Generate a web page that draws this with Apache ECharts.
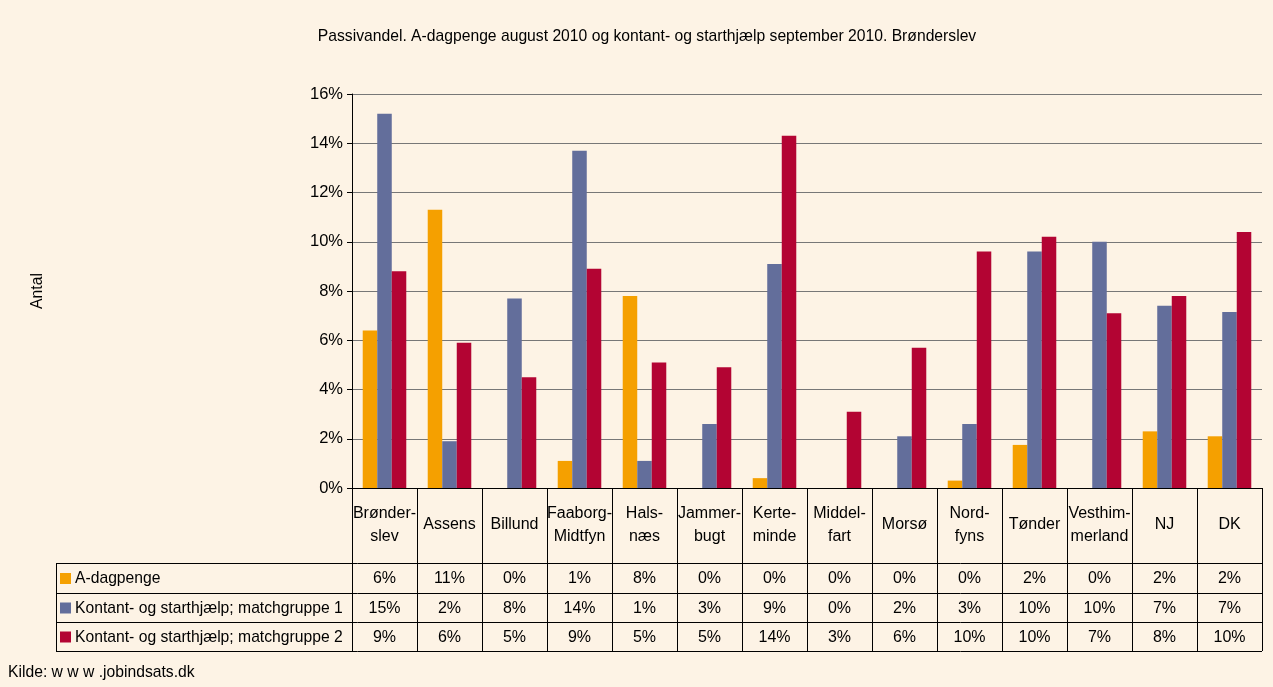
<!DOCTYPE html>
<html>
<head>
<meta charset="utf-8">
<script src="https://cdn.jsdelivr.net/npm/echarts@6/dist/echarts.min.js"></script>
<style>
  html, body { margin: 0; padding: 0; background: #fdf3e5; }
  #main { width: 1273px; height: 687px; }
</style>
</head>
<body>
<div id="main"></div>
<script>
const categories = ['Brønder-\nslev', 'Assens', 'Billund', 'Faaborg-\nMidtfyn', 'Hals-\nnæs', 'Jammer-\nbugt', 'Kerte-\nminde',
    'Middel-\nfart', 'Morsø', 'Nord-\nfyns', 'Tønder', 'Vesthim-\nmerland', 'NJ', 'DK'];
const seriesNames = ['A-dagpenge', 'Kontant- og starthjælp; matchgruppe 1', 'Kontant- og starthjælp; matchgruppe 2'];
const aDagpenge = [6.4, 11.3, 0, 1.1, 7.8, 0, 0.4, 0, 0, 0.3, 1.75, 0, 2.3, 2.1];
const match1 = [15.2, 1.9, 7.7, 13.7, 1.1, 2.6, 9.1, 0, 2.1, 2.6, 9.6, 10.0, 7.4, 7.15];
const match2 = [8.8, 5.9, 4.5, 8.9, 5.1, 4.9, 14.3, 3.1, 5.7, 9.6, 10.2, 7.1, 7.8, 10.4];
const yTicks = [0, 2, 4, 6, 8, 10, 12, 14, 16];
const colors = ['#f5a000', '#636e9b', '#b30433'];

const font = 'Liberation Sans, Arial, sans-serif';
const gridLeft = 352, gridRight = 11, gridTop = 94, gridBottom = 199;
const rowY = [563, 593, 622, 651];
const tableLeft = 56;

const chart = echarts.init(document.getElementById('main'), null, {renderer: 'canvas'});
const allData = [aDagpenge, match1, match2];

const option = {
    backgroundColor: '#fdf3e5',
    animation: false,
    title: {
        text: 'Passivandel. A-dagpenge august 2010 og kontant- og starthjælp september 2010. Brønderslev',
        left: 642,
        textAlign: 'center',
        top: 24,
        textStyle: {fontFamily: font, fontSize: 15.7, fontWeight: 'normal', color: '#000'}
    },
    grid: {left: gridLeft, right: gridRight, top: gridTop, bottom: gridBottom},
    xAxis: {
        type: 'category',
        data: categories,
        axisLine: {lineStyle: {color: '#000', width: 1}},
        axisTick: {show: true, interval: 0, length: rowY[3] - (687 - gridBottom), lineStyle: {color: '#000'}},
        axisLabel: {
            interval: 0, margin: 37, verticalAlign: 'middle', lineHeight: 23,
            fontFamily: font, fontSize: 16, color: '#000'
        }
    },
    yAxis: {
        type: 'value',
        min: 0, max: 16, interval: 2,
        name: 'Antal',
        nameLocation: 'middle',
        nameGap: 306,
        nameRotate: 90,
        nameTextStyle: {fontFamily: font, fontSize: 15.7, color: '#000'},
        axisLine: {show: true, lineStyle: {color: '#000'}},
        axisTick: {show: true, length: 5, lineStyle: {color: '#000'}},
        axisLabel: {
            margin: 9, fontFamily: font, fontSize: 16.5, color: '#000',
            formatter: v => yTicks.includes(v) ? v + '%' : ''
        },
        splitLine: {lineStyle: {color: '#777777', width: 1}}
    },
    series: seriesNames.map((name, i) => ({
        name: name,
        type: 'bar',
        data: allData[i],
        itemStyle: {color: colors[i]},
        barGap: '0%',
        barCategoryGap: '33%'
    }))
};
chart.setOption(option);

// data table below the plot
const graphics = [];
const lineStyle = {stroke: '#000', lineWidth: 1};
const xRight = 1273 - gridRight;
rowY.forEach(y => {
    graphics.push({type: 'line', shape: {x1: tableLeft, y1: y + 0.5, x2: xRight, y2: y + 0.5}, style: lineStyle, silent: true});
});
graphics.push({type: 'line', shape: {x1: tableLeft + 0.5, y1: rowY[0], x2: tableLeft + 0.5, y2: rowY[3]}, style: lineStyle, silent: true});
graphics.push({type: 'line', shape: {x1: gridLeft + 0.5, y1: rowY[0], x2: gridLeft + 0.5, y2: rowY[3]}, style: lineStyle, silent: true});
seriesNames.forEach((name, i) => {
    const cy = (rowY[i] + rowY[i + 1]) / 2;
    graphics.push({type: 'rect', shape: {x: 60, y: cy - 5, width: 11, height: 11}, style: {fill: colors[i]}, silent: true});
    graphics.push({type: 'text', x: 75, y: cy + 1, style: {text: name, font: '15.7px ' + font, fill: '#000', verticalAlign: 'middle'}, silent: true});
    allData[i].forEach((v, j) => {
        const px = chart.convertToPixel({xAxisIndex: 0}, j);
        graphics.push({
            type: 'text', x: px, y: cy + 1,
            style: {text: Math.round(v) + '%', font: '16px ' + font, fill: '#000', align: 'center', verticalAlign: 'middle'},
            silent: true
        });
    });
});
graphics.push({type: 'text', x: 8, y: 673, style: {text: 'Kilde: w w w .jobindsats.dk', font: '15.7px ' + font, fill: '#000', verticalAlign: 'middle'}, silent: true});
chart.setOption({graphic: graphics});
</script>
</body>
</html>
